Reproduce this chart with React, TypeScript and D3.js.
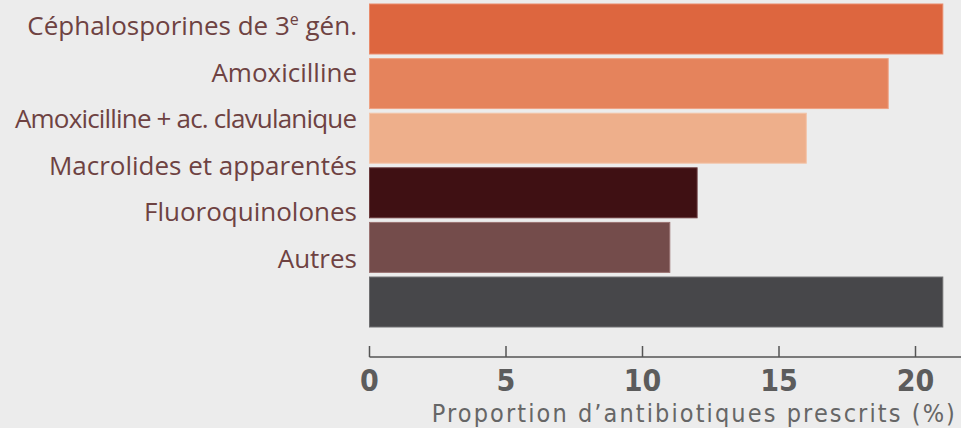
import React from "react";
import * as d3 from "d3";

const categories = [
  "Céphalosporines de 3e gén.",
  "Amoxicilline",
  "Amoxicilline + ac. clavulanique",
  "Macrolides et apparentés",
  "Fluoroquinolones",
  "Autres",
  "",
];
const barKeys = ["c3g", "amox", "amoxclav", "macro", "fluoro", "autres", "total"];
const values = [21, 19, 16, 12, 11, 21];
const colors = ["#dd663f", "#e5835c", "#eeaf8b", "#3f1013", "#744c4b", "#47474a"];
const strokes = ["#e98a6a", "#eea283", "#f3c4a8", "#6a3a3c", "#9a7372", "#6e6e70"];
const ticks = [0, 5, 10, 15, 20];
const axisTitle = "Proportion d\u2019antibiotiques prescrits (%)";

const W = 961;
const H = 428;

export default function App() {
  const x = d3.scaleLinear().domain([0, 20]).range([369.5, 915.5]);
  const y = d3
    .scaleBand<string>()
    .domain(barKeys.slice(0, values.length))
    .range([4, 327])
    .paddingInner(0.085)
    .paddingOuter(0);
  const labelY = d3
    .scalePoint<string>()
    .domain(categories.slice(0, 6))
    .range([35, 268]);
  const axisY = 357;

  return (
    <svg
      width={W}
      height={H}
      style={{ position: "absolute", left: 0, top: 0, display: "block" }}
    >
      <rect x={0} y={0} width={W} height={H} fill="#ececec" />
      {values.map((v, i) => (
        <rect
          key={i}
          x={x(0)}
          y={y(barKeys[i])!}
          width={x(v) - x(0)}
          height={y.bandwidth()}
          fill={colors[i]}
          stroke={strokes[i]}
          strokeWidth={1}
        />
      ))}
      {categories.slice(0, 6).map((c, i) => {
        const isC3g = i === 0;
        const extra = i === 2 ? { textLength: 342, lengthAdjust: "spacing" } : {};
        return (
          <text
            key={i}
            x={357}
            y={labelY(c)!}
            textAnchor="end"
            fill="#6e4242"
            fontFamily="'Open Sans', sans-serif"
            fontSize={26}
            {...extra}
          >
            {isC3g ? (
              <>
                <tspan>Céphalosporines de 3</tspan>
                <tspan fontSize={16} dy={-10}>e</tspan>
                <tspan dy={10}> gén.</tspan>
              </>
            ) : (
              c
            )}
          </text>
        );
      })}
      <line
        x1={x(0)}
        x2={W}
        y1={axisY}
        y2={axisY}
        stroke="#555"
        strokeWidth={1.5}
      />
      {ticks.map((t) => (
        <g key={t}>
          <line
            x1={x(t)}
            x2={x(t)}
            y1={axisY}
            y2={axisY - 11}
            stroke="#555"
            strokeWidth={1.5}
          />
          <text
            x={x(t)}
            y={391}
            textAnchor="middle"
            fill="#5c5c5c"
            fontFamily="'Liberation Sans Narrow', 'DejaVu Sans Condensed', sans-serif"
            fontWeight="bold"
            fontSize={30}
          >
            {t}
          </text>
        </g>
      ))}
      <text
        x={957}
        y={422}
        textAnchor="end"
        fill="#666"
        fontFamily="'Liberation Sans Narrow', 'DejaVu Sans Condensed', sans-serif"
        fontSize={25}
        letterSpacing={2.1}
      >
        {axisTitle}
      </text>
    </svg>
  );
}
